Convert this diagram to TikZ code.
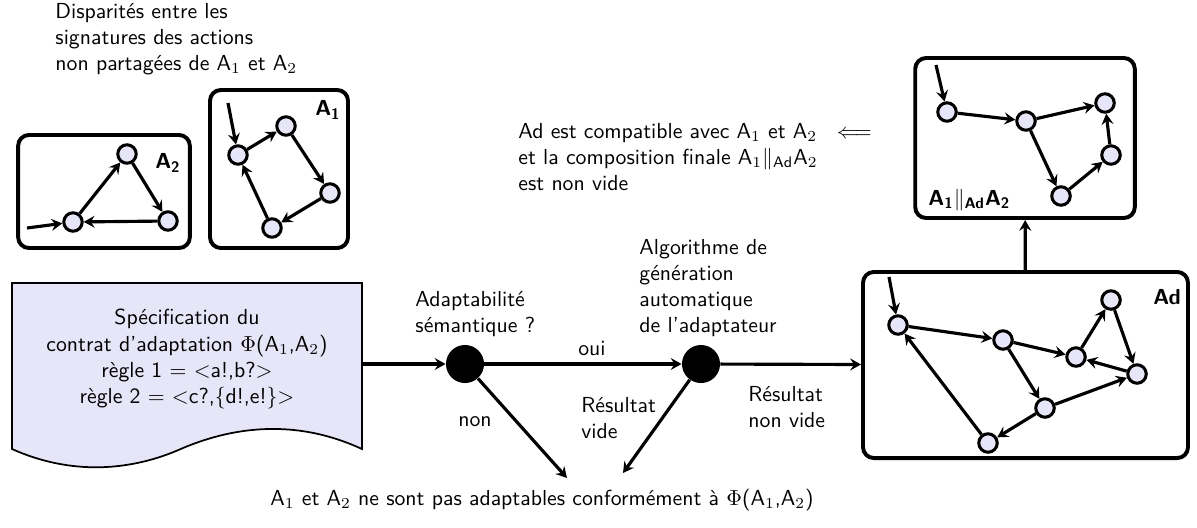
\documentclass[tikz,border=0pt]{standalone}
\usepackage{amsmath,amssymb}
\usepackage{xcolor}
\usetikzlibrary{arrows.meta}
\definecolor{softlavender}{RGB}{230,230,248}

\tikzset{
  state/.style={circle,draw,line width=1.4pt,fill=softlavender,minimum size=8.5pt,inner sep=0pt},
  autbox/.style={draw,rounded corners=5pt,line width=1.8pt},
  decision/.style={circle,fill=black,minimum size=17.5pt,inner sep=0pt},
  trans/.style={-{Stealth[length=5pt,width=5.5pt,inset=1.8pt]},line width=1.45pt},
  flow/.style={-{Stealth[length=5pt,width=5.5pt,inset=1.8pt]},line width=1.45pt},
  lbl/.style={align=left,anchor=west,inner sep=0pt},
}

\begin{document}
\begin{tikzpicture}[x=0.46pt,y=-0.46pt, every node/.style={font=\sffamily}]
  \useasboundingbox (0,0) rectangle (1197,527);

  % top left: the two automata
  \node[lbl,anchor=north west] (mismatch) at (55,3) {Disparit\'es entre les\\signatures des actions\\non partag\'ees de A$_1$ et A$_2$};

  \node[autbox,minimum width=79pt,minimum height=52pt] (boxA2) at (104,191.5) {};
  \node[font=\sffamily\bfseries] (nameA2) at (168,163) {A\textsubscript{2}};
  \node[state] (a2s0) at (73,222) {};
  \node[state] (a2s1) at (127,154) {};
  \node[state] (a2s2) at (168,221) {};
  \coordinate (a2init) at (27,228);
  \draw[trans] (a2init) -- (a2s0);
  \draw[trans] (a2s0) -- (a2s1);
  \draw[trans] (a2s1) -- (a2s2);
  \draw[trans] (a2s2) -- (a2s0);

  \node[autbox,minimum width=63.5pt,minimum height=72.7pt] (boxA1) at (279,169) {};
  \node[font=\sffamily\bfseries] (nameA1) at (328,110) {A\textsubscript{1}};
  \node[state] (a1s0) at (238,155) {};
  \node[state] (a1s1) at (286,126) {};
  \node[state] (a1s2) at (330,193) {};
  \node[state] (a1s3) at (272,228) {};
  \coordinate (a1init) at (228,103);
  \draw[trans] (a1init) -- (a1s0);
  \draw[trans] (a1s0) -- (a1s1);
  \draw[trans] (a1s1) -- (a1s2);
  \draw[trans] (a1s2) -- (a1s3);
  \draw[trans] (a1s3) -- (a1s0);

  % adaptation contract (document shape)
  \draw[fill=softlavender,line width=0.8pt] (12,283) -- (362,283) -- (362,449)
    .. controls (310,425) and (250,420) .. (183,448)
    .. controls (130,472) and (70,475) .. (12,449) -- cycle;
  \node[align=center] (contract) at (187,359) {Sp\'ecification du\\contrat d'adaptation $\Phi$(A$_1$,A$_2$)\\r\`egle 1 $=$ $<$a!,b?$>$\\r\`egle 2 $=$ $<$c?,$\{$d!,e!$\}$$>$};
  \coordinate (contractE) at (362,364);

  % decisions
  \node[decision] (sem) at (465,364) {};
  \node[decision] (gen) at (701,364) {};
  \node[lbl] (semtxt) at (415,314) {Adaptabilit\'e\\s\'emantique ?};
  \node[lbl] (gentxt) at (639,288) {Algorithme de\\g\'en\'eration\\automatique\\de l'adaptateur};
  \node (oui) at (592,348) {oui};
  \node (non) at (475,422) {non};
  \node[lbl] (vide) at (581,418) {R\'esultat\\vide};
  \node[lbl] (nonvide) at (748,407) {R\'esultat\\non vide};
  \node (fail) at (542,500) {A$_1$ et A$_2$ ne sont pas adaptables conform\'ement \`a $\Phi$(A$_1$,A$_2$)};
  \coordinate (failL) at (567,478);
  \coordinate (failR) at (623,473);

  % adaptor Ad
  \node[autbox,minimum width=149.5pt,minimum height=85.6pt] (ad) at (1025.5,365) {};
  \node[font=\sffamily\bfseries] (nameAd) at (1167,297) {Ad};
  \node[state] (d0) at (898,325) {};
  \node[state] (d1) at (1003,340) {};
  \node[state] (d2) at (1076,357) {};
  \node[state] (d3) at (1111,300) {};
  \node[state] (d4) at (1137,374) {};
  \node[state] (d5) at (1045,408) {};
  \node[state] (d6) at (988,443) {};
  \coordinate (dinit) at (889,277);
  \draw[trans] (dinit) -- (d0);
  \draw[trans] (d0) -- (d1);
  \draw[trans] (d1) -- (d2);
  \draw[trans] (d1) -- (d5);
  \draw[trans] (d2) -- (d3);
  \draw[trans] (d3) -- (d4);
  \draw[trans] (d4) -- (d2);
  \draw[trans] (d5) -- (d4);
  \draw[trans] (d5) -- (d6);
  \draw[trans] (d6) -- (d0);

  % final composition
  \node[autbox,minimum width=101pt,minimum height=73.6pt] (comp) at (1025,138) {};
  \node[font=\sffamily\bfseries,anchor=west,inner sep=0pt] (nameComp) at (928,200) {A\textsubscript{1}$\|$\textsubscript{Ad}A\textsubscript{2}};
  \node[state] (c0) at (947,112) {};
  \node[state] (c1) at (1026,121) {};
  \node[state] (c2) at (1105,103) {};
  \node[state] (c3) at (1111,155) {};
  \node[state] (c4) at (1061,196) {};
  \coordinate (cinit) at (936,65);
  \draw[trans] (cinit) -- (c0);
  \draw[trans] (c0) -- (c1);
  \draw[trans] (c1) -- (c2);
  \draw[trans] (c1) -- (c4);
  \draw[trans] (c4) -- (c3);
  \draw[trans] (c3) -- (c2);

  \node[lbl] (compat) at (518,157) {Ad est compatible avec A$_1$ et A$_2$\hspace{9pt}$\Longleftarrow$\\et la composition finale A$_1\|_{\mathsf{Ad}}$A$_2$\\est non vide};

  % flow
  \draw[flow] (contractE) -- (sem);
  \draw[flow] (sem) -- (gen);
  \draw[flow] (gen) -- (ad);
  \draw[flow] (sem) -- (failL);
  \draw[flow] (gen) -- (failR);
  \draw[flow] (ad) -- (comp);
\end{tikzpicture}
\end{document}
